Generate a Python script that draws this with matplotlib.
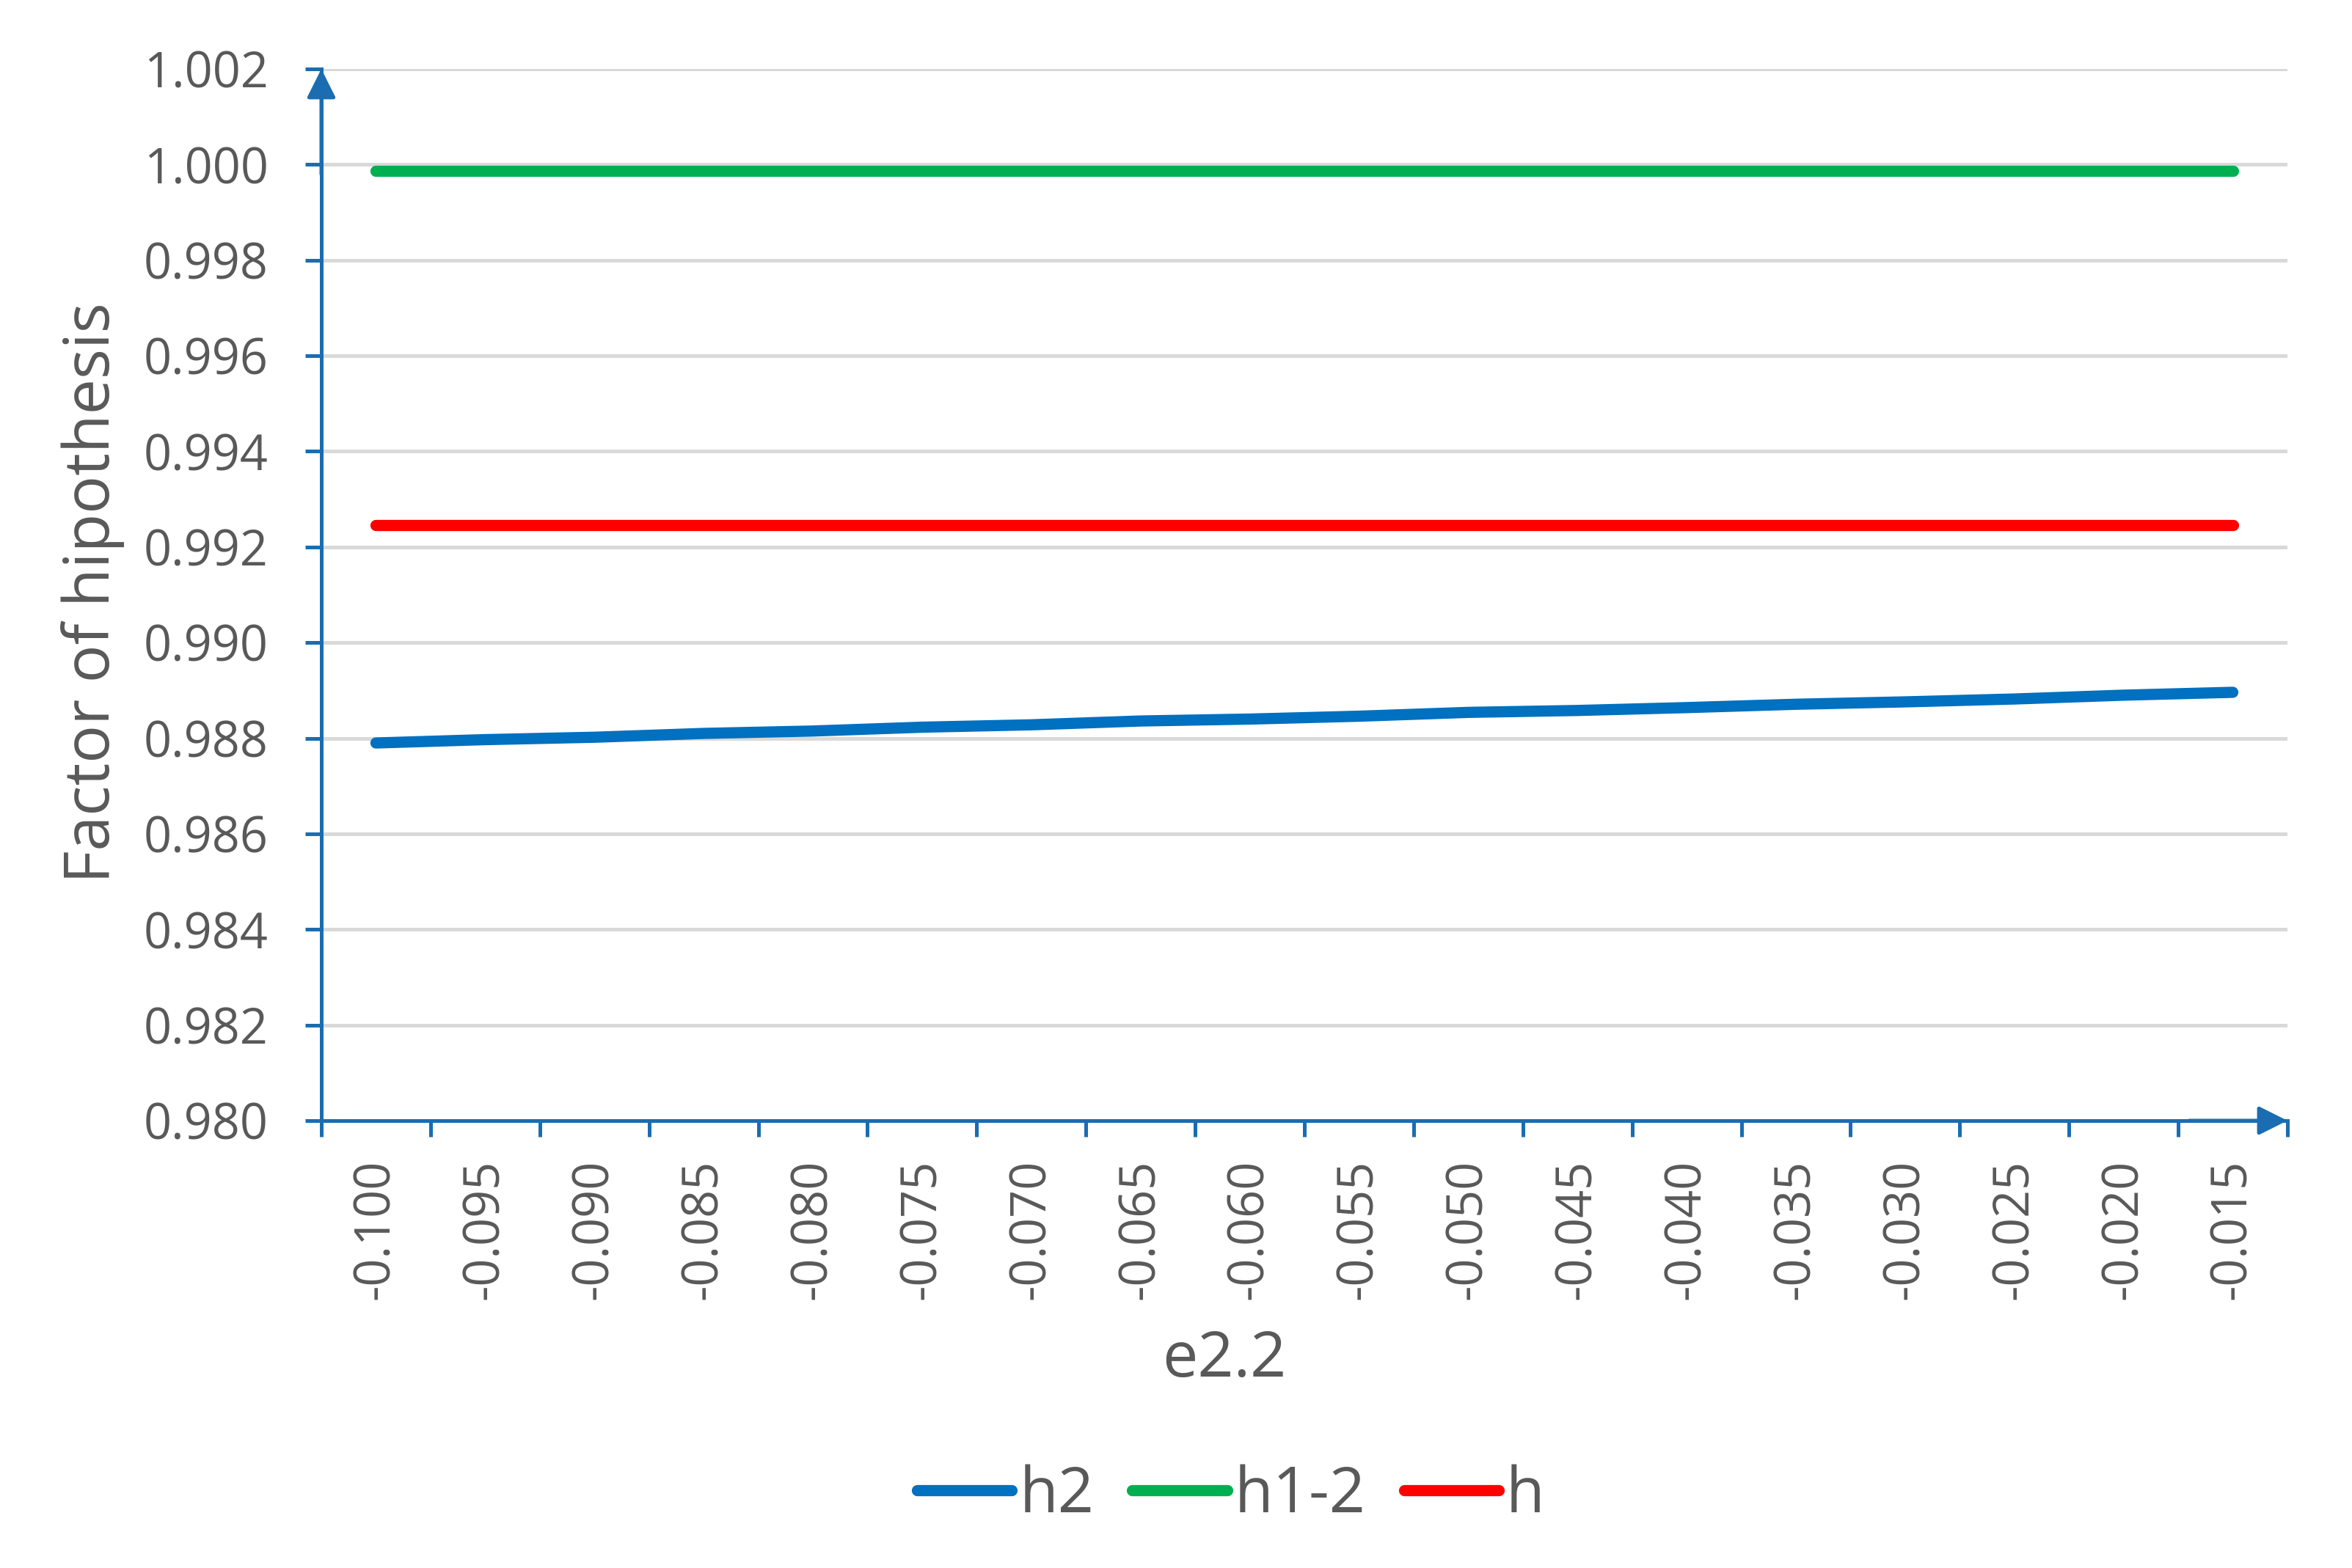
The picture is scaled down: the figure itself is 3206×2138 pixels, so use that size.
import numpy as np
import matplotlib
matplotlib.use("Agg")
import matplotlib.pyplot as plt
from matplotlib.ticker import FixedLocator, FixedFormatter, FormatStrFormatter

# # data
categories = ['-0.100', '-0.095', '-0.090', '-0.085', '-0.080', '-0.075',
              '-0.070', '-0.065', '-0.060', '-0.055', '-0.050', '-0.045',
              '-0.040', '-0.035', '-0.030', '-0.025', '-0.020', '-0.015']
h2 = [0.98790, 0.98797, 0.98802, 0.98810, 0.98815, 0.98823,
      0.98828, 0.98836, 0.98840, 0.98846, 0.98854, 0.98858,
      0.98864, 0.98871, 0.98876, 0.98882, 0.98890, 0.98896]
h1_2 = [0.99987] * len(categories)
h = [0.99246] * len(categories)
y_ticks = [0.980, 0.982, 0.984, 0.986, 0.988, 0.990,
           0.992, 0.994, 0.996, 0.998, 1.000, 1.002]

series = [('h2', h2, '#0070C0'), ('h1-2', h1_2, '#00B050'), ('h', h, '#FF0000')]

W, H, DPI = 3206, 2138, 200
plt.rcParams['font.family'] = ['Open Sans', 'DejaVu Sans']
txt_col = '#595959'
ax_col = '#1A6DB0'

fig = plt.figure(figsize=(W / DPI, H / DPI), dpi=DPI)
ax = fig.add_axes([438 / W, 1 - 1528 / H, (3118 - 438) / W, (1528 - 94) / H])

x = np.arange(len(categories))
lines = []
for name, vals, col in series:
    ln, = ax.plot(x, vals, color=col, lw=5.5, solid_capstyle='round', label=name, zorder=3)
    lines.append(ln)

ax.set_xlim(-0.5, len(categories) - 0.5)
ax.set_ylim(y_ticks[0], y_ticks[-1])

# #<~ y axis
ax.yaxis.set_major_locator(FixedLocator(y_ticks))
ax.yaxis.set_major_formatter(FormatStrFormatter('%.3f'))
ax.tick_params(axis='y', length=8, width=1.8, color=ax_col, pad=18,
               labelsize=24, labelcolor=txt_col)
ax.grid(axis='y', color='#D9D9D9', lw=1.8, zorder=0)
ax.set_axisbelow(True)

# #<~ x axis: ticks between categories, labels at centers
ax.xaxis.set_major_locator(FixedLocator(np.arange(-0.5, len(categories), 1.0)))
ax.xaxis.set_major_formatter(FixedFormatter([''] * (len(categories) + 1)))
ax.xaxis.set_minor_locator(FixedLocator(x))
ax.xaxis.set_minor_formatter(FixedFormatter(categories))
ax.tick_params(axis='x', which='major', length=8, width=1.8, color=ax_col)
ax.tick_params(axis='x', which='minor', length=0, pad=19, labelsize=24,
               labelcolor=txt_col, labelrotation=90)

for s in ['top', 'right']:
    ax.spines[s].set_visible(False)
for s in ['left', 'bottom']:
    ax.spines[s].set_color(ax_col)
    ax.spines[s].set_linewidth(1.8)

# #<~ arrow heads on the axes
arw = dict(arrowstyle='-|>,head_length=0.5,head_width=0.25', color=ax_col,
           lw=1.8, mutation_scale=24, shrinkA=0, shrinkB=0)
ax.annotate('', xy=(0, 1), xytext=(0, 0.9), xycoords='axes fraction',
            textcoords='axes fraction', arrowprops=arw, annotation_clip=False)
ax.annotate('', xy=(1, 0), xytext=(0.95, 0), xycoords='axes fraction',
            textcoords='axes fraction', arrowprops=arw, annotation_clip=False)

# #<~ titles
fig.text(127 / W, 1 - 808 / H, 'Factor of hipothesis', rotation=90,
         ha='center', va='center', fontsize=31, color=txt_col)
fig.text(1669 / W, 1 - 1855 / H, 'e2.2', ha='center', va='center',
         fontsize=31, color=txt_col)

fig.legend(handles=lines, loc='center', bbox_to_anchor=(1678 / W, 1 - 2040 / H),
           ncol=3, frameon=False, fontsize=31, handlelength=1.5,
           handletextpad=0.12, columnspacing=0.6, labelcolor=txt_col)

fig.savefig('out.png', dpi=DPI)
